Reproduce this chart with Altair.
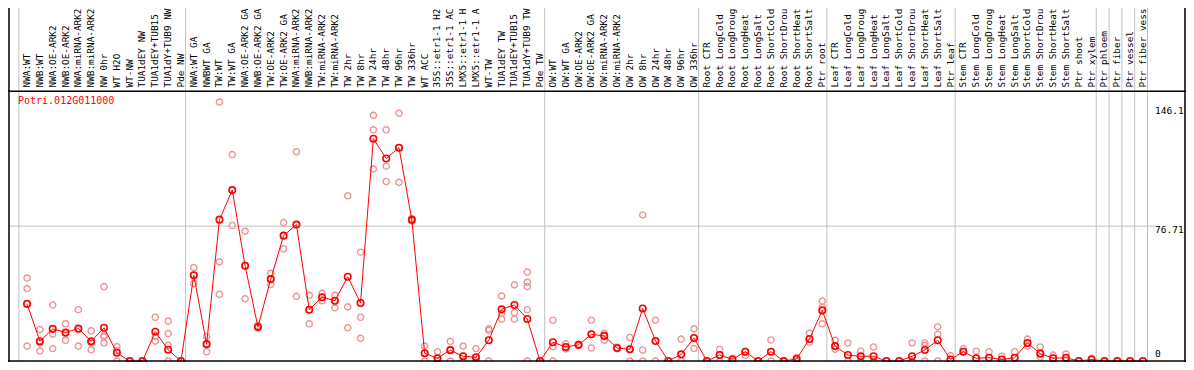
import altair as alt
import pandas as pd

gene = "Potri.012G011000"

categories = [
    "NWA:WT", "NWB:WT", "NWA:OE-ARK2", "NWB:OE-ARK2", "NWA:miRNA-ARK2", "NWB:miRNA-ARK2",
    "NW 0hr", "WT H2O", "WT-NW", "TUA1dEY NW", "TUA1dEY+TUB15 NW", "TUA1dY+TUB9 NW", "Pde NW",
    "NWA:WT GA", "NWBWT GA", "TW:WT", "TW:WT GA", "NWA:OE-ARK2 GA", "NWB:OE-ARK2 GA",
    "TW:OE-ARK2", "TW:OE-ARK2 GA", "NWA:miRNA-ARK2", "NWB:miRNA-ARK2", "TW:miRNA-ARK2",
    "TW:miRNA-ARK2", "TW 2hr", "TW 8hr", "TW 24hr", "TW 48hr", "TW 96hr", "TW 336hr", "WT ACC",
    "35S::etr1-1 H2O", "35S::etr1-1 ACC", "LMX5::etr1-1 H2O", "LMX5::etr1-1 ACC", "WT-TW",
    "TUA1dEY TW", "TUA1dEY+TUB15 TW", "TUA1dY+TUB9 TW", "Pde TW",
    "OW:WT", "OW:WT GA", "OW:OE-ARK2", "OW:OE-ARK2 GA", "OW:miRNA-ARK2", "OW:miRNA-ARK2",
    "OW 2hr", "OW 8hr", "OW 24hr", "OW 48hr", "OW 96hr", "OW 336hr",
    "Root CTR", "Root LongCold", "Root LongDrought", "Root LongHeat", "Root LongSalt",
    "Root ShortCold", "Root ShortDrought", "Root ShortHeat", "Root ShortSalt", "Ptr root",
    "Leaf CTR", "Leaf LongCold", "Leaf LongDrought", "Leaf LongHeat", "Leaf LongSalt",
    "Leaf ShortCold", "Leaf ShortDrought", "Leaf ShortHeat", "Leaf ShortSalt", "Ptr leaf",
    "Stem CTR", "Stem LongCold", "Stem LongDrought", "Stem LongHeat", "Stem LongSalt",
    "Stem ShortCold", "Stem ShortDrought", "Stem ShortHeat", "Stem ShortSalt", "Ptr shoot",
    "Ptr xylem", "Ptr phloem", "Ptr fiber", "Ptr vessel", "Ptr fiber vessel",
]

means = [
    32.5, 11.3, 18.3, 16.2, 18.5, 11.3, 18.9, 4.7, 0, 0, 16.7, 6.4, 0,
    48.8, 9.6, 80.4, 97.2, 54.2, 19.4, 46.6, 71.3, 77.6, 29.2, 36.3, 34.3, 47.9, 33.0,
    126.4, 115.2, 121.3, 80.3, 4.4, 1.6, 6.2, 2.7, 2.2, 11.8, 29.4, 31.9, 23.9, 0,
    10.7, 8.0, 9.2, 15.2, 14.3, 7.4, 6.7, 29.9, 11.4, 0, 3.8, 13.1,
    0, 3.4, 0.9, 5.3, 0, 5.3, 0, 1.2, 12.5, 28.8,
    8.5, 3.4, 2.7, 2.7, 0, 0, 2.7, 6.3, 11.8, 0.9,
    5.3, 1.6, 1.9, 0.9, 1.9, 10.3, 4.2, 1.6, 1.9, 0, 0.9,
    0, 0, 0, 0,
]

replicates = [
    [47.2, 41.2, 8.5], [17.9, 10.3, 5.8], [31.9, 15.4, 7.1], [21.2, 15.6, 11.8],
    [29.2, 17.8, 8.5], [17.2, 10.3, 6.4], [42.3, 14.7, 13.8, 10.3], [8.2, 5.9, 0],
    [0, 0, 0], [0, 0, 0], [24.9, 14.0, 11.3], [22.7, 15.6, 8.9, 0], [0, 0],
    [53.2, 48.8, 44.1], [14.0, 9.6, 5.3], [147.3, 56.4, 37.9], [117.4, 77.1],
    [73.8, 54.2, 35.4], [20.2, 19.4, 18.9], [49.9, 46.6, 43.5], [78.7, 71.3, 63.8],
    [119.0, 77.6, 36.8], [37.4, 29.2, 21.2], [38.5, 36.3, 34.3], [37.4, 34.3, 30.3],
    [94.0, 30.8, 18.9], [61.9, 24.9, 12.9], [139.7, 131.5, 109.2], [131.5, 110.8, 102.1],
    [140.9, 121.3, 101.6], [81.0, 80.3, 79.6], [8.5, 4.4, 0], [5.3, 1.6, 0],
    [11.2, 6.2, 0], [8.5, 2.7, 0], [7.1, 2.2, 0], [18.3, 17.4, 0], [37.0, 27.0, 23.8],
    [43.3, 27.6, 23.8], [50.6, 44.8, 42.3, 29.2, 0], [0, 0],
    [23.2, 8.2, 0], [9.8, 8.0, 6.9], [9.6, 9.2, 8.8], [23.2, 15.2, 7.4],
    [15.8, 14.3, 11.8], [7.8, 7.4, 7.0], [13.4, 6.7, 0], [83.1, 6.3, 0],
    [23.2, 11.4, 0], [0, 0], [12.5, 0], [18.3, 13.1, 7.1],
    [0, 0], [6.7, 3.4, 0], [1.6, 0.9, 0], [5.3, 3.1], [0, 0], [12.0, 5.3, 0],
    [0, 0], [2.0, 1.2, 0], [15.8, 12.5, 10.7], [34.1, 30.6, 21.2],
    [11.8, 8.5, 6.7], [10.3, 0], [5.6, 2.7, 0], [8.0, 0], [0, 0], [0, 0],
    [10.3, 0], [10.3, 8.9, 0], [19.4, 15.2, 0], [3.1, 0.9],
    [7.1, 5.3], [5.6, 1.6], [5.3, 1.9], [2.7, 0.9], [5.3, 1.9], [12.5, 10.3, 8.5],
    [8.0, 4.2, 2.2], [3.4, 1.6], [4.0, 1.9], [0, 0], [1.5, 0.9],
    [0], [0], [0], [0],
]

group_bounds = [0, 13, 41, 53, 63, 73, 84, 85, 86, 87, 88]
y_top = 153.42
y_mid = 76.71
y_peak = 146.1

# ---------------- layout ----------------
W, H = 1178, 354
POINT_OFF = 0.64
LABEL_CHARS = 14  # the header band shows only the first 14 characters
xs = alt.Scale(domain=[-0.846, 91.0], nice=False, zero=False)
ys = alt.Scale(domain=[-0.544, 200.76], nice=False, zero=False)
MONO = "DejaVu Sans Mono"
GRID = "#c0c0c0"

mean_df = pd.DataFrame({
    "u": [i + POINT_OFF for i in range(len(categories))],
    "v": means,
    "cat": categories,
    "lab": [c[:LABEL_CHARS] for c in categories],
})
rep_df = pd.DataFrame(
    [{"u": i + POINT_OFF, "v": v} for i, reps in enumerate(replicates) for v in reps]
)
bound_df = pd.DataFrame({"u": group_bounds})


def X(field):
    return alt.X(field, type="quantitative", scale=xs, axis=None)


def Y(field):
    return alt.Y(field, type="quantitative", scale=ys, axis=None)


vgrid = alt.Chart(bound_df).mark_rule(color=GRID, strokeWidth=1).encode(
    x=X("u"), y=alt.value(0), y2=alt.value(H)
)

hgrid = alt.Chart(pd.DataFrame({"v": [y_mid], "a": [-0.846], "b": [88.6]})).mark_rule(
    color=GRID, strokeWidth=1
).encode(x=X("a"), x2="b", y=Y("v"))

frame_h = alt.Chart(pd.DataFrame({"v": [0, y_top]})).mark_rule(
    color="black", strokeWidth=1.5
).encode(x=alt.value(0), x2=alt.value(W), y=Y("v"))

frame_v = alt.Chart(pd.DataFrame({"u": [-0.769, 90.92]})).mark_rule(
    color="black", strokeWidth=1.5
).encode(x=X("u"), y=alt.value(0), y2=alt.value(H))

cat_text = alt.Chart(mean_df).mark_text(
    angle=270, align="left", baseline="middle", font=MONO, fontSize=9.4, color="black"
).encode(x=X("u"), y=alt.value(79.5), text="lab:N")

title = alt.Chart(pd.DataFrame({"t": [gene]})).mark_text(
    align="left", baseline="middle", font=MONO, fontSize=10, color="red"
).encode(x=alt.value(10), y=alt.value(92.5), text="t:N")


def ylab(val, text, dy):
    return alt.Chart(pd.DataFrame({"v": [val], "t": [text]})).mark_text(
        align="left", baseline="middle", font=MONO, fontSize=9.5, color="black", dy=dy
    ).encode(x=alt.value(1147), y=Y("v"), text="t:N")


lab_peak = ylab(y_peak, f"{y_peak:g}", 7)
lab_mid = ylab(y_mid, f"{y_mid:g}", 4)
lab_zero = ylab(0, "0", -7)

reps = alt.Chart(rep_df).mark_point(
    shape="circle", filled=False, color="#ec9494", size=38, strokeWidth=1.4, opacity=1
).encode(x=X("u"), y=Y("v"))

line = alt.Chart(mean_df).mark_line(color="#ff0000", strokeWidth=1).encode(
    x=X("u"), y=Y("v"), order="u:Q"
)

mean_pts = alt.Chart(mean_df).mark_point(
    shape="circle", filled=False, color="#ff0000", size=42, strokeWidth=1.6, opacity=1
).encode(x=X("u"), y=Y("v"))

chart = alt.layer(
    vgrid, hgrid, cat_text, title, lab_peak, lab_mid, lab_zero,
    reps, line, mean_pts, frame_h, frame_v,
).properties(
    width=W, height=H, padding=0, autosize=alt.AutoSizeParams(type="none")
).configure_view(stroke=None)

chart.save("out.html", embed_options={"renderer": "svg", "actions": False})
